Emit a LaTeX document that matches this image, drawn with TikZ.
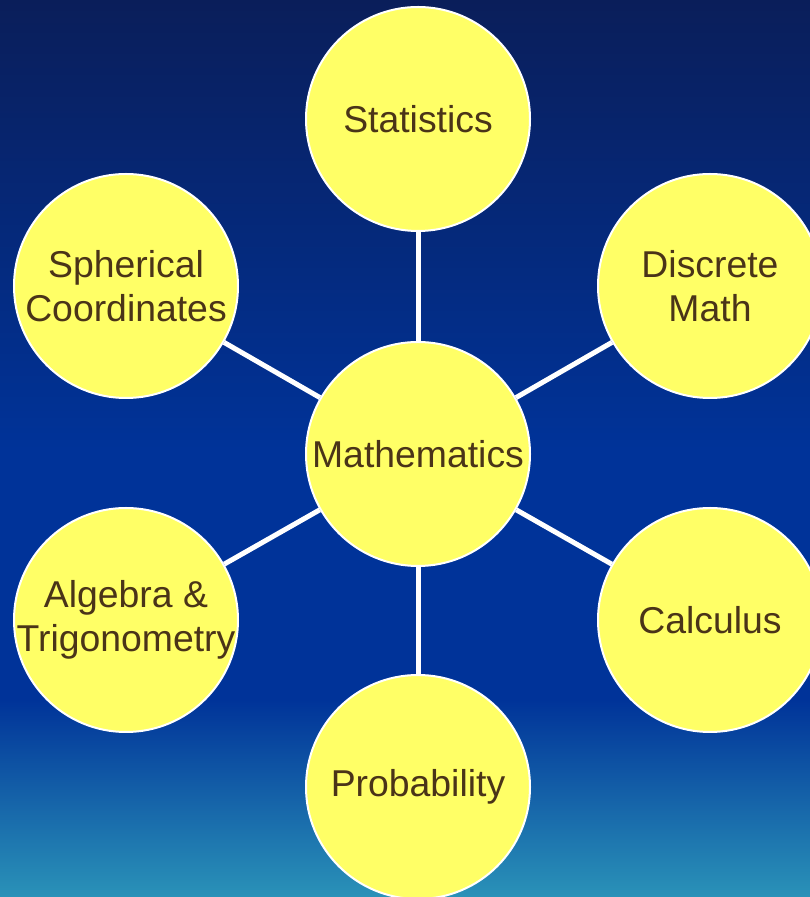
\documentclass[tikz,border=0pt]{standalone}
\usepackage{fontspec}
\setmainfont{Liberation Sans}
\usepackage{tikz}
\usetikzlibrary{
  backgrounds,
  shapes.geometric
}
\usepackage{xcolor}
\definecolor{bgtop}{RGB}{10, 30, 90}
\definecolor{bgmid}{RGB}{0, 51, 153}
\definecolor{bgbot}{RGB}{42, 146, 184}
\definecolor{fillY}{RGB}{255, 255, 102}
\definecolor{txtbrown}{RGB}{74, 52, 24}
\tikzset{
  % Doiralar
  topic/.style   = {circle, fill=fillY, draw=white, line width=2bp,
                    minimum size=224bp, inner sep=0pt, align=center,
                    text=txtbrown, font=\fontsize{37.5}{44}\selectfont},
  % Bog'lovchi chiziqlar
  spoke/.style   = {draw=white, line width=5bp},
}
% matn doiradan chiqsa ham doira kattalashmasin
\newcommand{\nowd}[1]{\makebox[0pt]{#1}}

\begin{document}
\begin{tikzpicture}[x=1bp, y=1bp]
  \useasboundingbox (0,0) rectangle (810,897);
  % Markaz va atrofdagi doiralar
  \node[topic] (math) at (418,443) {Mathematics};
  \node[topic] (stat) at (418,778) {Statistics};
  \node[topic] (sph)  at (126,611) {Spherical\\Coordinates};
  \node[topic] (disc) at (710,611) {Discrete\\Math};
  \node[topic] (calc) at (710,277) {Calculus};
  \node[topic] (alg)  at (126,277) {\nowd{Algebra \&}\\\nowd{Trigonometry}};
  \node[topic] (prob) at (418,110) {Probability};
  \begin{scope}[on background layer]
    % Fon
    \shade[top color=bgtop, bottom color=bgmid] (0,447) rectangle (810,897);
    \fill[bgmid] (0,197) rectangle (810,447.5);
    \shade[top color=bgmid, bottom color=bgbot] (0,0) rectangle (810,197.5);
    % chiziqlar
    \foreach \t in {stat,sph,disc,calc,alg,prob}
      \draw[spoke] (math) -- (\t);
  \end{scope}
\end{tikzpicture}
\end{document}
